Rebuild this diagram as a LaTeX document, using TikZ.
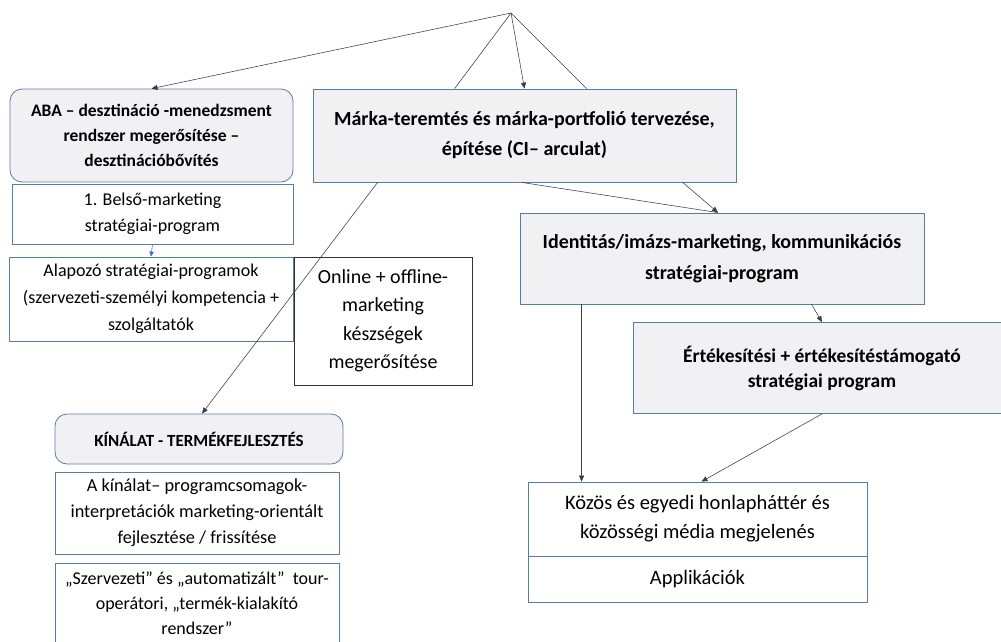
\documentclass[tikz,border=0pt]{standalone}
\usepackage{fontspec}
\setmainfont{Carlito}
\usetikzlibrary{arrows.meta,calc}
\definecolor{boxblue}{HTML}{5A7BA6}
\definecolor{boxgray}{HTML}{F1F1F3}
\definecolor{linegray}{HTML}{3C3C3C}
\definecolor{smallblue}{HTML}{4472C4}
\newcommand{\fs}[2]{\fontsize{#1}{#2}\selectfont}
\tikzset{
  base/.style={draw=boxblue, line width=0.8pt, align=center, inner sep=2pt},
  headbox/.style={base, fill=boxgray},
  roundhead/.style={headbox, rounded corners=12pt},
  plainbox/.style={base, fill=white},
  blackbox/.style={plainbox, draw=black!80},
  conn/.style={draw=linegray, line width=0.55pt},
  arr/.style={conn, -{Triangle[length=6pt,width=5pt]}},
  bluearr/.style={draw=smallblue, line width=0.6pt, -{Triangle[length=5pt,width=4.5pt]}}
}
\begin{document}
\begin{tikzpicture}[x=1pt,y=-1pt]
\useasboundingbox (0,0) rectangle (1001,641);
\clip (0,0) rectangle (1001,641);

% left column: destination management
\node[roundhead, minimum width=283pt, minimum height=93pt, font=\bfseries\fs{17.5}{25}]
  (aba) at (151.5,135.5) {ABA -- desztináció -menedzsment\\rendszer megerősítése --\\desztinációbővítés};
\node[plainbox, minimum width=281pt, minimum height=60pt, font=\fs{18}{26}]
  (belso) at (152.5,214) {1. Belső-marketing\\stratégiai-program};
\node[plainbox, minimum width=284pt, minimum height=84pt, font=\fs{18}{27}]
  (alap) at (151,299) {Alapozó stratégiai-programok\\(szervezeti-személyi kompetencia +\\szolgáltatók};
\node[blackbox, minimum width=178pt, minimum height=128pt, font=\fs{20}{28.5}]
  (online) at (383,321) {Online + offline-\\marketing\\készségek\\megerősítése};

% brand building
\node[headbox, minimum width=423pt, minimum height=93pt, font=\bfseries\fs{20}{30}]
  (marka) at (524.5,135.5) {Márka-teremtés és márka-portfolió tervezése,\\építése (CI– arculat)};
\node[headbox, minimum width=404pt, minimum height=91pt, font=\bfseries\fs{20}{31}]
  (ident) at (722,258.5) {Identitás/imázs-marketing, kommunikációs\\stratégiai-program};
\node[headbox, minimum width=378pt, minimum height=91pt, font=\bfseries\fs{19.5}{25}]
  (ertek) at (822,368) {Értékesítési + értékesítéstámogató\\stratégiai program};
\node[plainbox, minimum width=339pt, minimum height=74pt, font=\fs{20.5}{29}]
  (kozos) at (697.5,519) {Közös és egyedi honlapháttér és\\közösségi média megjelenés};
\node[plainbox, minimum width=339pt, minimum height=46pt, font=\fs{20.5}{28}]
  (appl) at (697.5,579) {Applikációk};

% offer / product development
\node[roundhead, minimum width=288pt, minimum height=50pt, font=\bfseries\fs{17}{24}]
  (kinalat) at (199,439) {KÍNÁLAT - TERMÉKFEJLESZTÉS};
\node[plainbox, minimum width=284pt, minimum height=82pt, font=\fs{18.3}{26}]
  (akin) at (197,513) {A kínálat– programcsomagok-\\interpretációk marketing-orientált\\fejlesztése / frissítése};
\node[plainbox, minimum width=284pt, minimum height=80pt, anchor=north, font=\fs{18}{25}]
  (szerv) at (197,563) {„Szervezeti” és „automatizált”\ \ tour-\\operátori, „termék-kialakító\\rendszer”};

% connectors
\coordinate (apex) at (511,13);
\coordinate (mkL) at ($(marka.north west)+(142,0)$);
\coordinate (mkR) at ($(marka.north west)+(274,0)$);
\draw[arr] (apex) -- (aba.north);
\draw[conn] (apex) -- (mkL);
\draw[arr] (apex) -- (marka.north);
\draw[conn] (apex) -- (mkR);

\draw[bluearr] (belso.south) -- (alap.north);

\draw[arr] ($(marka.south west)+(65,0)$) -- ($(kinalat.north)+(3,0)$);
\coordinate (idtop) at ($(ident.north)+(-4,0)$);
\draw[conn] ($(marka.south west)+(209,0)$) -- (idtop);
\draw[arr] ($(marka.south west)+(370,0)$) -- (idtop);
\draw[arr] ($(ident.south west)+(292,0)$) -- (ertek.north);
\draw[arr] ($(ident.south west)+(62,0)$) -- ($(kozos.north west)+(54,0)$);
\draw[arr] (ertek.south) -- ($(kozos.north)+(4,0)$);
\end{tikzpicture}
\end{document}
